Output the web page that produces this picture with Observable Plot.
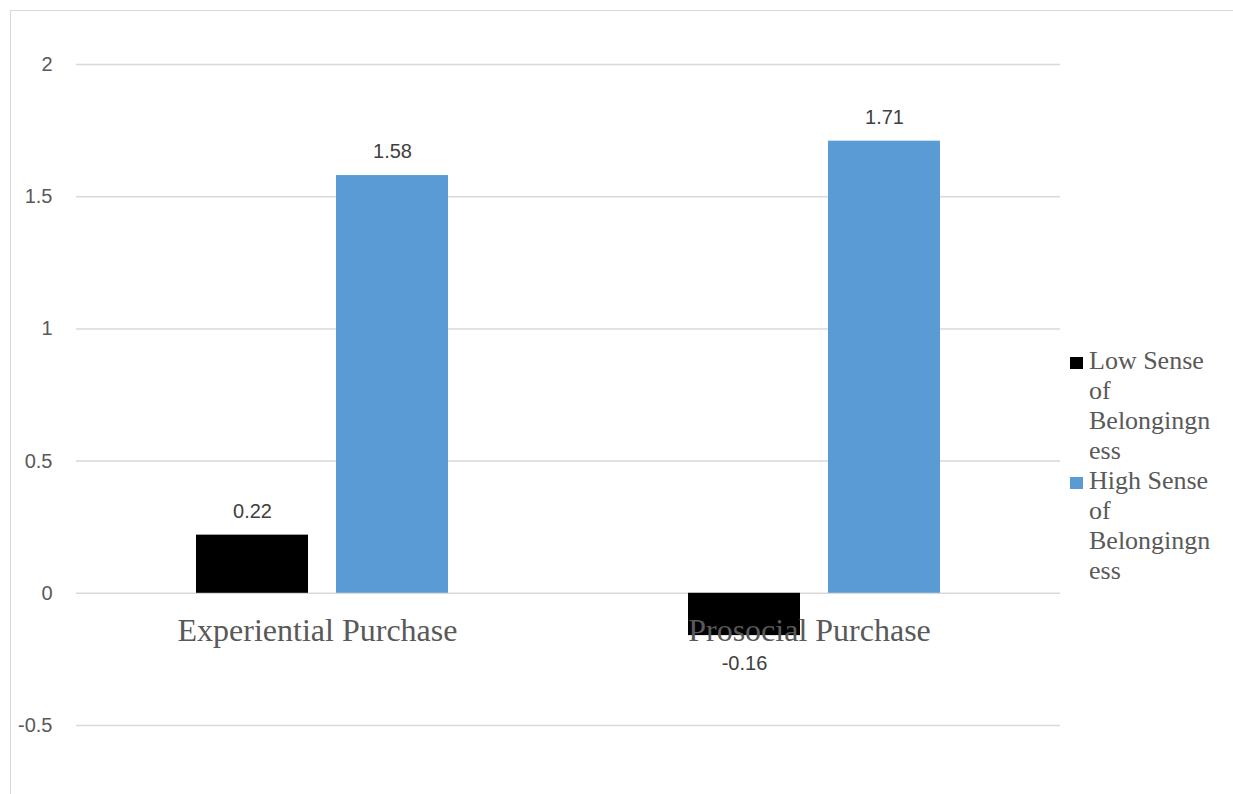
<!DOCTYPE html>
<html>
<head>
<meta charset="utf-8">
<script src="https://cdn.jsdelivr.net/npm/d3@7"></script>
<script src="https://cdn.jsdelivr.net/npm/@observablehq/plot@0.6"></script>
<style>
  body { margin: 0; background: #fff; }
  #wrap { position: relative; width: 1233px; height: 794px; overflow: hidden; }
  #frame { position: absolute; left: 10px; top: 10px; width: 1300px; height: 900px;
           border-left: 1.5px solid #d9d9d9; border-top: 1.5px solid #d9d9d9; }
  #legend { position: absolute; left: 1070px; top: 346px; font-family: "Liberation Serif", "Times New Roman", serif;
            font-size: 26px; color: #595959; line-height: 30px; }
  .item { position: relative; padding-left: 19px; }
  .sw { position: absolute; left: 0; top: 11px; width: 13px; height: 12px; }
</style>
</head>
<body>
<div id="wrap">
  <div id="frame"></div>
  <div id="chart"></div>
  <div id="legend"></div>
</div>
<script>
const categories = ["Experiential Purchase", "Prosocial Purchase"];
const series = ["Low Sense of Belongingness", "High Sense of Belongingness"];
const lowValues = [0.22, -0.16];
const highValues = [1.58, 1.71];
const yTicks = [-0.5, 0, 0.5, 1, 1.5, 2];
const legendLines = [["Low Sense", "of", "Belongingn", "ess"], ["High Sense", "of", "Belongingn", "ess"]];
const colors = ["#000000", "#5b9bd5"];

const data = [];
categories.forEach((c, i) => {
  data.push({category: c, series: series[0], value: lowValues[i]});
  data.push({category: c, series: series[1], value: highValues[i]});
});
const catData = categories.map(c => ({category: c, y: 0}));

const sans = "'Liberation Sans', Arial, sans-serif";
const chart = Plot.plot({
  width: 1233,
  height: 794,
  marginLeft: 75,
  marginRight: 173,
  marginTop: 64,
  marginBottom: 69,
  style: {fontFamily: sans, background: "transparent"},
  fx: {domain: categories, padding: 0, axis: null},
  x: {domain: series, paddingInner: 0.2, paddingOuter: 0.85, axis: null},
  y: {domain: [-0.5, 2], axis: null},
  color: {domain: series, range: colors},
  marks: [
    Plot.gridY(yTicks, {stroke: "#d9d9d9", strokeOpacity: 1, strokeWidth: 1.5}),
    Plot.axisY({ticks: yTicks, tickSize: 0, tickPadding: 24, tickFormat: d => String(d),
                fontSize: 20, fill: "#595959", label: null, facetAnchor: "left"}),
    Plot.barY(data, {fx: "category", x: "series", y: "value", fill: "series"}),
    Plot.text(catData, {fx: "category", y: "y", text: "category", dy: 48, dx: -5, lineAnchor: "bottom",
                        fontFamily: "'Liberation Serif', 'Times New Roman', serif", fontSize: 32, fill: "#595959"}),
    Plot.text(data.filter(d => d.value >= 0), {fx: "category", x: "series", y: "value", text: d => d.value.toFixed(2),
                        dy: -24, lineAnchor: "middle", fontSize: 20, fill: "#404040"}),
    Plot.text(data.filter(d => d.value < 0), {fx: "category", x: "series", y: "value", text: d => d.value.toFixed(2),
                        dy: 28, lineAnchor: "middle", fontSize: 20, fill: "#404040"})
  ]
});
document.getElementById("chart").appendChild(chart);

const legend = document.getElementById("legend");
series.forEach((s, i) => {
  const item = document.createElement("div");
  item.className = "item";
  item.title = s;
  const sw = document.createElement("div");
  sw.className = "sw";
  sw.style.background = colors[i];
  item.appendChild(sw);
  legendLines[i].forEach(l => {
    const line = document.createElement("div");
    line.textContent = l;
    item.appendChild(line);
  });
  legend.appendChild(item);
});
</script>
</body>
</html>
